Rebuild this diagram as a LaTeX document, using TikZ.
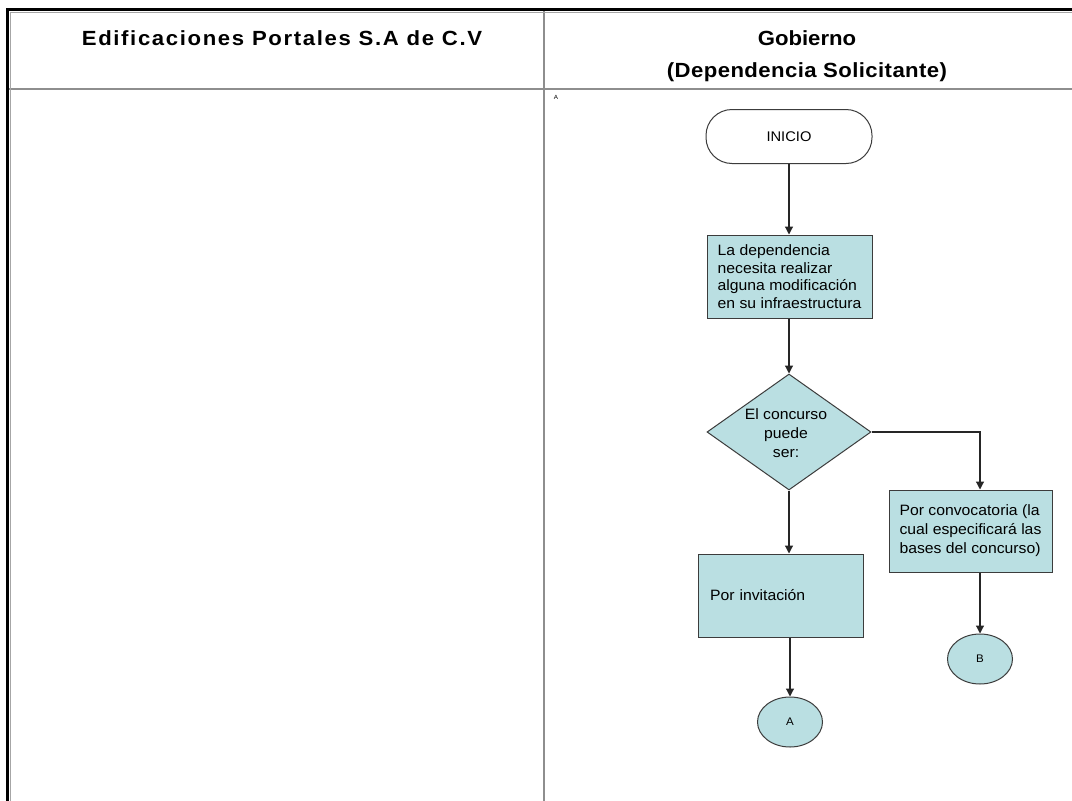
\documentclass[tikz,border=0pt]{standalone}
\usepackage{fontspec}
\setmainfont{Liberation Sans}
\newfontfamily\headfont{Liberation Sans}[FakeStretch=1.08]
\newfontfamily\bodyfont{Liberation Sans}[FakeStretch=1.05]
\usetikzlibrary{shapes.geometric,arrows.meta}
\definecolor{boxfill}{HTML}{BADFE2}
\definecolor{edge}{HTML}{3C3C3C}
\definecolor{rulegray}{HTML}{8E8E8E}

\tikzset{
  hd/.style={font=\headfont\bfseries\fontsize{20.5}{24}\selectfont, inner sep=0pt},
  proc/.style={draw=edge, line width=1pt, fill=boxfill, align=left, inner sep=0pt},
  terminal/.style={draw=edge, line width=1pt, fill=white, rounded corners=26pt,
    minimum width=166pt, minimum height=54pt, inner sep=0pt,
    font=\bodyfont\fontsize{14}{17}\selectfont},
  decision/.style={draw=edge, line width=1pt, fill=boxfill, shape=diamond,
    minimum width=164pt, minimum height=116pt, inner sep=0pt},
  connector/.style={draw=edge, line width=1pt, fill=boxfill, shape=ellipse,
    minimum width=65pt, minimum height=50pt, inner sep=0pt,
    font=\bodyfont\fontsize{11}{13}\selectfont},
  arr/.style={draw=black!85, line width=1.2pt, -{Triangle[width=8pt,length=8pt]}}
}

\begin{document}
\begin{tikzpicture}[x=1pt,y=-1pt]
\useasboundingbox (0,0) rectangle (1072,801);
\fill[white] (0,0) rectangle (1072,801);

% swimlane frame
\draw[rulegray, line width=2.5pt] (9,89) -- (1072,89);
\draw[rulegray, line width=2pt] (544,10) -- (544,801);
\draw[black!35, line width=1pt] (10.5,801) -- (10.5,12) -- (1072,12);
\draw[black, line width=3pt] (7.5,801) -- (7.5,9.5) -- (1072,9.5);

% lane titles
\node[hd] (laneL) at (282,38) {\addfontfeatures{LetterSpace=8}Edificaciones Portales S.A de C.V};
\node[hd] (laneR) at (807,38) {Gobierno};
\node[hd] (laneRsub) at (807,72) {\addfontfeatures{LetterSpace=2}(Dependencia Solicitante)};
\node[font=\bodyfont\fontsize{6}{7}\selectfont, inner sep=0pt] (pageref) at (556,97) {A};

% flow
\node[terminal] (inicio) at (789,136.5) {INICIO};

\node[proc, minimum width=165pt, minimum height=83pt,
      font=\bodyfont\fontsize{15}{17.6}\selectfont] (need) at (789.5,276.5)
  {La dependencia\\necesita realizar\\alguna modificación\\en su infraestructura};

\node[decision] (dia) at (789,432) {};
\node[font=\bodyfont\fontsize{15}{19}\selectfont, align=center, inner sep=0pt]
  (diatext) at (786,433) {El concurso\\puede\\ser:};

\node[proc, minimum width=163pt, minimum height=82pt,
      font=\bodyfont\fontsize{15}{19}\selectfont] (conv) at (970.5,531)
  {Por convocatoria (la\\cual especificará las\\bases del concurso)};

\node[proc, text width=141pt, inner xsep=12pt, minimum height=83pt,
      font=\bodyfont\fontsize{15}{18}\selectfont] (invit) at (780.5,595.5)
  {Por invitación};

\node[connector] (B) at (980,659) {B};
\node[connector] (A) at (790,722) {A};

% connectors
\draw[arr] (inicio.south) -- (need.north -| inicio.south);
\draw[arr] (need.south -| dia.north) -- (dia.north);
\draw[arr] (dia.south) -- (dia.south |- invit.north);
\draw[arr] (dia.east) -| ([xshift=9.5pt]conv.north);
\draw[arr] ([xshift=9.5pt]conv.south) -- (B.north);
\draw[arr] (invit.south -| A.north) -- (A.north);
\end{tikzpicture}
\end{document}
